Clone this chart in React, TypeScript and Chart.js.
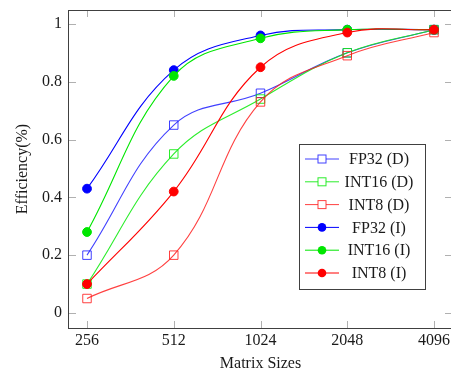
import React, { useEffect, useRef } from 'react';
import { Chart, registerables } from 'chart.js';
Chart.register(...registerables);

const categories = ['256', '512', '1024', '2048', '4096'];
const yTicks = [0, 0.2, 0.4, 0.6, 0.8, 1];
const fp32D = [0.2, 0.65, 0.76, 0.9, 0.98];
const int16D = [0.1, 0.55, 0.74, 0.9, 0.98];
const int8D = [0.05, 0.2, 0.73, 0.89, 0.97];
const fp32I = [0.43, 0.84, 0.96, 0.98, 0.98];
const int16I = [0.28, 0.82, 0.95, 0.98, 0.98];
const int8I = [0.1, 0.42, 0.85, 0.97, 0.98];

const FONT = "'Liberation Serif', 'Times New Roman', serif";

const seriesDefs = [
  { label: 'FP32 (D)', data: fp32D, color: 'rgba(30,30,255,0.85)', style: 'rect' },
  { label: 'INT16 (D)', data: int16D, color: 'rgba(20,235,20,0.9)', style: 'rect' },
  { label: 'INT8 (D)', data: int8D, color: 'rgba(255,30,30,0.85)', style: 'rect' },
  { label: 'FP32 (I)', data: fp32I, color: '#0000ff', style: 'circle' },
  { label: 'INT16 (I)', data: int16I, color: '#00e600', style: 'circle' },
  { label: 'INT8 (I)', data: int8I, color: '#ff0000', style: 'circle' },
];

const framePlugin = {
  id: 'frame',
  beforeDatasetsDraw(chart: any) {
    const { ctx, chartArea: ca, scales } = chart;
    const len = 7;
    ctx.save();
    ctx.strokeStyle = '#b0b0b0';
    ctx.lineWidth = 1;
    ctx.beginPath();
    categories.forEach((_, i) => {
      const x = Math.round(scales.x.getPixelForValue(i)) + 0.5;
      ctx.moveTo(x, ca.bottom);
      ctx.lineTo(x, ca.bottom - len);
      ctx.moveTo(x, ca.top);
      ctx.lineTo(x, ca.top + len);
    });
    yTicks.forEach((v) => {
      const y = Math.round(scales.y.getPixelForValue(v)) + 0.5;
      ctx.moveTo(ca.left, y);
      ctx.lineTo(ca.left + len, y);
      ctx.moveTo(ca.right, y);
      ctx.lineTo(ca.right - len, y);
    });
    ctx.stroke();
    ctx.restore();
  },
  afterDatasetsDraw(chart: any) {
    const { ctx, chartArea: ca } = chart;
    ctx.save();
    ctx.strokeStyle = '#404040';
    ctx.lineWidth = 1;
    ctx.strokeRect(Math.round(ca.left) - 0.5, Math.round(ca.top) + 0.5, Math.round(ca.right - ca.left), Math.round(ca.bottom - ca.top));
    ctx.restore();
  },
};

const legendPlugin = {
  id: 'customLegend',
  afterDraw(chart: any) {
    const { ctx, chartArea: ca } = chart;
    const w = 126;
    const h = 145;
    const right = ca.right - 27;
    const bottom = ca.bottom - 39;
    const left = right - w;
    const top = bottom - h;
    ctx.save();
    ctx.fillStyle = '#ffffff';
    ctx.fillRect(left, top, w, h);
    ctx.strokeStyle = '#404040';
    ctx.lineWidth = 1;
    ctx.strokeRect(Math.round(left) + 0.5, Math.round(top) + 0.5, w, h);
    ctx.font = `16px ${FONT}`;
    ctx.textAlign = 'center';
    ctx.textBaseline = 'middle';
    chart.data.datasets.forEach((ds: any, i: number) => {
      const y = top + 15 + i * 22.8;
      const x0 = left + 6;
      const x1 = left + 40;
      const xm = (x0 + x1) / 2;
      ctx.strokeStyle = ds.borderColor;
      ctx.lineWidth = 1;
      ctx.beginPath();
      ctx.moveTo(x0, y);
      ctx.lineTo(x1, y);
      ctx.stroke();
      if (ds.pointStyle === 'rect') {
        ctx.fillStyle = '#ffffff';
        ctx.fillRect(xm - 4, y - 4, 8, 8);
        ctx.strokeStyle = ds.pointBorderColor;
        ctx.strokeRect(xm - 4, y - 4, 8, 8);
      } else {
        ctx.fillStyle = ds.pointBackgroundColor;
        ctx.beginPath();
        ctx.arc(xm, y, 4.3, 0, Math.PI * 2);
        ctx.fill();
      }
      ctx.fillStyle = '#1a1a1a';
      ctx.fillText(ds.label, left + 80, y + 1);
    });
    ctx.restore();
  },
};

export default function App() {
  const ref = useRef<HTMLCanvasElement | null>(null);
  useEffect(() => {
    if (!ref.current) return;
    const datasets = seriesDefs.map((s, i) => ({
      label: s.label,
      data: s.data.map((v, j) => ({ x: j, y: v })),
      borderColor: s.color,
      borderWidth: 1.1,
      tension: 0.4,
      pointStyle: s.style,
      pointRadius: s.style === 'rect' ? 6 : 4.4,
      pointBorderWidth: 1,
      pointBorderColor: s.color,
      pointBackgroundColor: s.style === 'rect' ? 'rgba(255,255,255,0)' : s.color,
      order: seriesDefs.length - i,
      fill: false,
    }));
    const chart = new Chart(ref.current, {
      type: 'line',
      data: { datasets },
      plugins: [framePlugin, legendPlugin],
      options: {
        animation: false,
        responsive: false,
        devicePixelRatio: 1,
        layout: { autoPadding: false, padding: { left: 0, top: 10, right: 1, bottom: 0 } },
        plugins: { legend: { display: false }, tooltip: { enabled: false } },
        scales: {
          x: {
            type: 'linear',
            min: -0.2075,
            max: 4.2075,
            afterFit: (s: any) => { s.height = 43; s.paddingLeft = 0; s.paddingRight = 0; },
            afterBuildTicks: (s: any) => { s.ticks = categories.map((_, i) => ({ value: i })); },
            ticks: {
              callback: (_v: any, i: number) => categories[i],
              font: { family: FONT, size: 16 },
              color: '#1a1a1a',
              padding: 3,
              maxRotation: 0,
              autoSkip: false,
            },
            grid: { display: false, drawTicks: false },
            border: { display: false },
            title: {
              display: true,
              text: 'Matrix Sizes',
              font: { family: FONT, size: 16, lineHeight: 1 },
              color: '#1a1a1a',
              padding: { top: 0, bottom: -1 },
            },
          },
          y: {
            type: 'linear',
            min: -0.052,
            max: 1.048,
            afterFit: (s: any) => { s.width = 69; s.paddingTop = 0; s.paddingBottom = 0; },
            afterBuildTicks: (s: any) => { s.ticks = yTicks.map((v) => ({ value: v })); },
            ticks: {
              callback: (_v: any, i: number) => String(yTicks[i]),
              font: { family: FONT, size: 16 },
              color: '#1a1a1a',
              padding: 7,
            },
            grid: { display: false, drawTicks: false },
            border: { display: false },
            title: {
              display: true,
              text: 'Efficiency(%)',
              font: { family: FONT, size: 16 },
              color: '#1a1a1a',
              padding: { top: 13, bottom: 0 },
            },
          },
        },
      },
    });
    return () => chart.destroy();
  }, []);
  return (
    <div style={{ position: 'fixed', left: 0, top: 0, width: 451, height: 371, overflow: 'hidden', background: '#fff' }}>
      <canvas ref={ref} width={453} height={371} style={{ width: 453, height: 371, display: 'block' }} />
    </div>
  );
}
